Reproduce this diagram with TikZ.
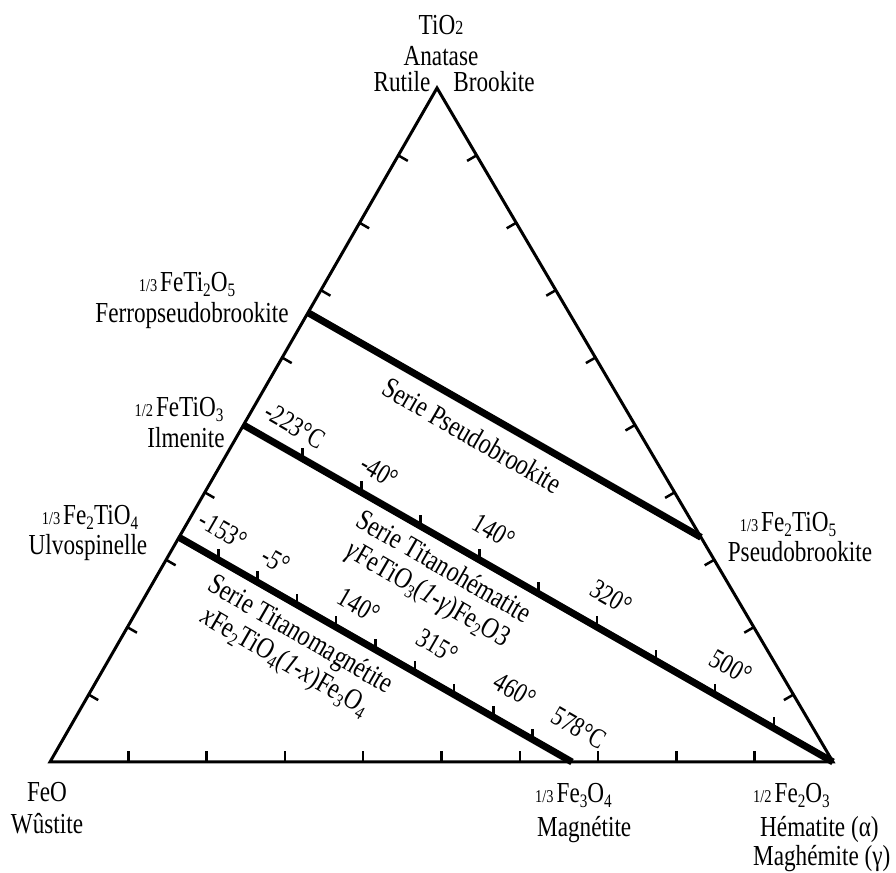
\documentclass[tikz,border=0pt]{standalone}
\usepackage{fontspec}
\setmainfont{Liberation Serif}[FakeStretch=0.8]
\usepackage{tikz}
\usetikzlibrary{calc}

\newcommand{\molfrac}[1]{{\fontsize{18}{18}\selectfont #1}\hspace{3pt}}
\newcommand{\chsub}[1]{\raisebox{-5pt}{\fontsize{19}{19}\selectfont #1}}
\newcommand{\smalldigit}[1]{{\fontsize{20}{20}\selectfont #1}}

\tikzset{
  sideline/.style={line width=3pt},
  sidetick/.style={line width=2.5pt},
  serieline/.style={line width=7pt},
  serietick/.style={line width=2.5pt},
  vertexlabel/.style={font=\fontsize{29}{31}\selectfont, inner sep=0pt},
  templabel/.style={font=\fontsize{28}{30}\selectfont, rotate=-30, inner sep=0pt},
  serielabel/.style={font=\fontsize{29.5}{31}\selectfont, rotate=-30, inner sep=0pt, align=center},
}

\begin{document}
\begin{tikzpicture}[x=1pt, y=1pt]
    \useasboundingbox (0,0) rectangle (896,872);
    \coordinate (feo) at (50,110);
    \coordinate (hem) at (833,110);
    \coordinate (tio) at (437,784);
    \coordinate (ulv) at ($(feo)!1/3!(tio)$);
    \coordinate (ilm) at ($(feo)!1/2!(tio)$);
    \coordinate (fpb) at ($(feo)!2/3!(tio)$);
    \coordinate (psb) at ($(hem)!1/3!(tio)$);
    \coordinate (mag) at ($(feo)!2/3!(hem)$);
    \foreach \k in {1,...,9} {
      \draw[sidetick] ($(feo)!\k/10!(hem)$) -- ++(90:11);
      \draw[sidetick] ($(feo)!\k/10!(tio)$) -- ++(-30:11);
      \draw[sidetick] ($(hem)!\k/10!(tio)$) -- ++(210:11);
      \draw[serietick] ($(ilm)!\k/10!(hem)$) -- ++(90:11);
      \draw[serietick] ($(ulv)!\k/10!(mag)$) -- ++(90:11);
    }
    \draw[sideline] (feo) -- (hem) -- (tio) -- cycle;
    \draw[serieline] (fpb) -- (psb);
    \draw[serieline] (ilm) -- (hem);
    \draw[serieline] (ulv) -- (mag);

    \node[vertexlabel, anchor=base] (tioformula) at (441,837) {TiO\smalldigit{2}};
    \node[vertexlabel, anchor=base] (anatase) at (441,806) {Anatase};
    \node[vertexlabel, anchor=base] (rutile) at (402,780) {Rutile};
    \node[vertexlabel, anchor=base] (brookite) at (494,780) {Brookite};
    \node[vertexlabel, anchor=base] (fpbformula) at (187,580) {\molfrac{1/3}FeTi\chsub{2}O\chsub{5}};
    \node[vertexlabel, anchor=base] (fpbname) at (192,549) {Ferropseudobrookite};
    \node[vertexlabel, anchor=base] (ilmformula) at (179,455) {\molfrac{1/2}FeTiO\chsub{3}};
    \node[vertexlabel, anchor=base] (ilmname) at (186,424) {Ilmenite};
    \node[vertexlabel, anchor=base] (ulvformula) at (90,347) {\molfrac{1/3}Fe\chsub{2}TiO\chsub{4}};
    \node[vertexlabel, anchor=base] (ulvname) at (88,317) {Ulvospinelle};
    \node[vertexlabel, anchor=base] (psbformula) at (788,340) {\molfrac{1/3}Fe\chsub{2}TiO\chsub{5}};
    \node[vertexlabel, anchor=base] (psbname) at (800,310) {Pseudobrookite};
    \node[vertexlabel, anchor=base] (feoformula) at (47,70) {FeO};
    \node[vertexlabel, anchor=base] (feoname) at (47,38) {Wûstite};
    \node[vertexlabel, anchor=base west] (magformula) at (535,69) {\molfrac{1/3}Fe\chsub{3}O\chsub{4}};
    \node[vertexlabel, anchor=base west] (magname) at (537,35) {Magnétite};
    \node[vertexlabel, anchor=base west] (hemformula) at (753,69) {\molfrac{1/2}Fe\chsub{2}O\chsub{3}};
    \node[vertexlabel, anchor=base west] (hemname) at (760,35) {Hématite (α)};
    \node[vertexlabel, anchor=base west] (maghname) at (753,6) {Maghémite (γ)};

    \node[templabel] (ilmtA) at ($(ilm)!0.066!(hem)!25pt!90:(hem)$) {-223°C};
    \node[templabel] (ilmtB) at ($(ilm)!0.208!(hem)!27pt!90:(hem)$) {-40°};
    \node[templabel] (ilmtC) at ($(ilm)!0.398!(hem)!32pt!90:(hem)$) {140°};
    \node[templabel] (ilmtD) at ($(ilm)!0.596!(hem)!33pt!90:(hem)$) {320°};
    \node[templabel] (ilmtE) at ($(ilm)!0.8!(hem)!32pt!90:(hem)$) {500°};
    \node[templabel] (ulvtA) at ($(ulv)!0.077!(mag)!28pt!90:(mag)$) {-153°};
    \node[templabel] (ulvtB) at ($(ulv)!0.211!(mag)!28pt!90:(mag)$) {-5°};
    \node[templabel] (ulvtC) at ($(ulv)!0.42!(mag)!30pt!90:(mag)$) {140°};
    \node[templabel] (ulvtD) at ($(ulv)!0.615!(mag)!34pt!90:(mag)$) {315°};
    \node[templabel] (ulvtE) at ($(ulv)!0.812!(mag)!34pt!90:(mag)$) {460°};
    \node[templabel] (ulvtF) at ($(ulv)!0.976!(mag)!33pt!90:(mag)$) {578°C};

    \node[serielabel] (psbserie) at ($(fpb)!0.45!(psb)!25pt!-90:(psb)$) {Serie Pseudobrookite};
    \node[serielabel] (ilmserie) at ($(ilm)!0.36!(hem)!41pt!-90:(hem)$)
      {Serie Titanohématite\\\textit{γ}FeTiO\chsub{3}(\textit{1-γ})Fe\chsub{2}O3};
    \node[serielabel] (ulvserie) at ($(ulv)!0.34!(mag)!41pt!-90:(mag)$)
      {Serie Titanomagnétite\\\textit{x}Fe\chsub{2}TiO\chsub{4}(\textit{1-x})Fe\chsub{3}O\chsub{4}};
\end{tikzpicture}
\end{document}
